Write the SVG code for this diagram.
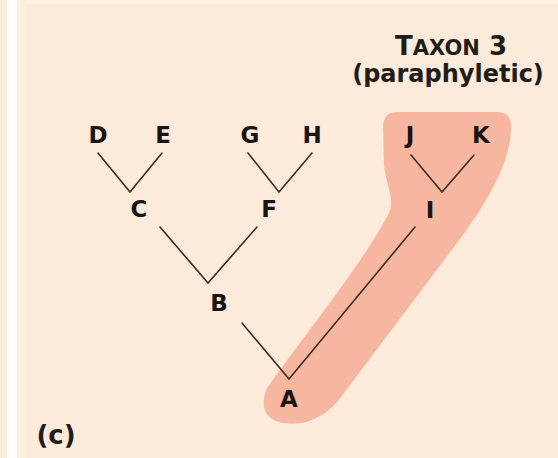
<svg xmlns="http://www.w3.org/2000/svg" width="558" height="458" viewBox="0 0 558 458">
<style>
.lbl{font-family:"DejaVu Sans","Liberation Sans",sans-serif;font-weight:bold;font-size:23px;fill:#1a1310;text-anchor:middle}
.edge{stroke:#3b2b22;stroke-width:1.6;fill:none;stroke-linecap:round;stroke-linejoin:miter}
.ttl{font-family:"DejaVu Sans","Liberation Sans",sans-serif;font-weight:bold;fill:#221c18;text-anchor:middle}
</style>
<rect x="0" y="0" width="558" height="458" fill="#fcebdb"/>
<rect x="0" y="0" width="7" height="458" fill="#f8efd6"/>
<rect x="7" y="0" width="10" height="458" fill="#ffffff"/>
<rect x="17" y="0" width="10" height="458" fill="#fbf0db"/>
<rect x="27" y="0" width="531" height="4" fill="#fdf3e9"/>
<g id="taxon3-highlight">
<path d="M397,112 L497,112 Q512,112 511,128 C511,168 477,215 463,235 L338,401 Q312,430 278,422 Q258,415 266,390 C300,340 355,275 388,215 C396,200 386,185 384,165 L383,128 Q383,112 397,112 Z" fill="#f7b6a0"/>
</g>
<g id="connectors">
<polyline class="edge" points="98,153 130,192 162,153"/>
<polyline class="edge" points="248,153 279,192 312,153"/>
<polyline class="edge" points="160,227 208,283 257,227"/>
<polyline class="edge" points="411,155 442,192 474,155"/>
<polyline class="edge" points="242,323 289,379 415,227"/>
</g>
<g id="node-D"><text class="lbl" x="98" y="143">D</text></g>
<g id="node-E"><text class="lbl" x="163" y="143">E</text></g>
<g id="node-G"><text class="lbl" x="250" y="143">G</text></g>
<g id="node-H"><text class="lbl" x="312" y="143">H</text></g>
<g id="node-J"><text class="lbl" x="410" y="143">J</text></g>
<g id="node-K"><text class="lbl" x="481" y="143">K</text></g>
<g id="node-C"><text class="lbl" x="139" y="217">C</text></g>
<g id="node-F"><text class="lbl" x="269" y="217">F</text></g>
<g id="node-I"><text class="lbl" x="430" y="218">I</text></g>
<g id="node-B"><text class="lbl" x="219" y="311">B</text></g>
<g id="node-A"><text class="lbl" x="289" y="407">A</text></g>
<g id="title">
<text class="ttl" x="451" y="55" font-size="26">T<tspan font-size="21">AXON</tspan> 3</text>
<text class="ttl" x="448" y="82" font-size="24">(paraphyletic)</text>
</g>
<g id="panel-label">
<text class="ttl" x="56" y="444" font-size="26">(c)</text>
</g>
</svg>
